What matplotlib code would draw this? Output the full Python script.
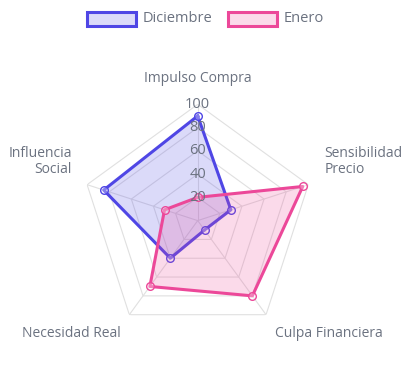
import matplotlib.pyplot as plt
from matplotlib.patches import Rectangle
import numpy as np

# data
categories = ['Impulso Compra', 'Sensibilidad\nPrecio', 'Culpa Financiera',
              'Necesidad Real', 'Influencia\nSocial']
diciembre = [90, 30, 10, 40, 85]
enero = [20, 95, 80, 70, 30]
ticks = [20, 40, 60, 80, 100]

blue = '#4f46e5'
pink = '#ec4899'
grey = '#6b7280'
grid = '#e0e0e0'

plt.rcParams['font.family'] = ['Open Sans', 'DejaVu Sans']

W, H = 412, 381
fig = plt.figure(figsize=(W / 100, H / 100), dpi=100)

# radar axes, centre and radius in pixels
cx, cy, R = 197.7, 220.6, 116.3
ax = fig.add_axes([(cx - R) / W, 1 - (cy + R) / H, 2 * R / W, 2 * R / H],
                  projection='polar')
ax.set_theta_offset(np.pi / 2)
ax.set_theta_direction(-1)
ax.set_ylim(0, 100)
ax.axis('off')

n = len(categories)
theta = np.arange(n) * 2 * np.pi / n
closed = np.append(theta, theta[0])

# grid pentagons and spokes
for t in ticks:
    ax.plot(closed, [t] * (n + 1), color=grid, lw=0.8, zorder=1)
for th in theta:
    ax.plot([th, th], [0, 100], color=grid, lw=0.8, zorder=1)

# datasets
for vals, col, z in [(diciembre, blue, 3), (enero, pink, 4)]:
    v = np.append(vals, vals[0])
    ax.fill(closed, v, color=col, alpha=0.2, lw=0, zorder=z)
    ax.plot(closed, v, color=col, lw=2.2, zorder=z + 0.5)
    ax.plot(theta, vals, 'o', ms=5.5, mfc=(1, 1, 1, 0.3), mec=col, mew=1,
            zorder=z + 0.6)

# tick labels along the top spoke
for t in ticks:
    ax.text(0, t, str(t), ha='center', va='center', fontsize=10.5,
            color=grey, zorder=6)

# category labels
offsets = [(0, 26, 'center'), (16, 23, 'left'), (9, -19, 'left'),
           (-9, -19, 'right'), (-15, 23, 'right')]
for th, lab, (dx, dy, ha) in zip(theta, categories, offsets):
    ax.annotate(lab, xy=(th, 100), xytext=(dx, dy), textcoords='offset pixels',
                ha=ha, va='center', fontsize=10, color=grey,
                multialignment=ha, linespacing=1.1, annotation_clip=False)

# legend
legend = [('Diciembre', blue, 87, 143), ('Enero', pink, 228, 284)]
for name, col, bx, tx in legend:
    fig.add_artist(Rectangle((bx / W, 1 - 26 / H), 49 / W, 14 / H,
                             transform=fig.transFigure, facecolor=col,
                             alpha=0.2, lw=0))
    fig.add_artist(Rectangle((bx / W, 1 - 26 / H), 49 / W, 14 / H,
                             transform=fig.transFigure, facecolor='none',
                             edgecolor=col, lw=2.2))
    fig.text(tx / W, 1 - 18.5 / H, name, ha='left', va='center',
             fontsize=10.5, color=grey)

fig.savefig('out.png', dpi=100)
